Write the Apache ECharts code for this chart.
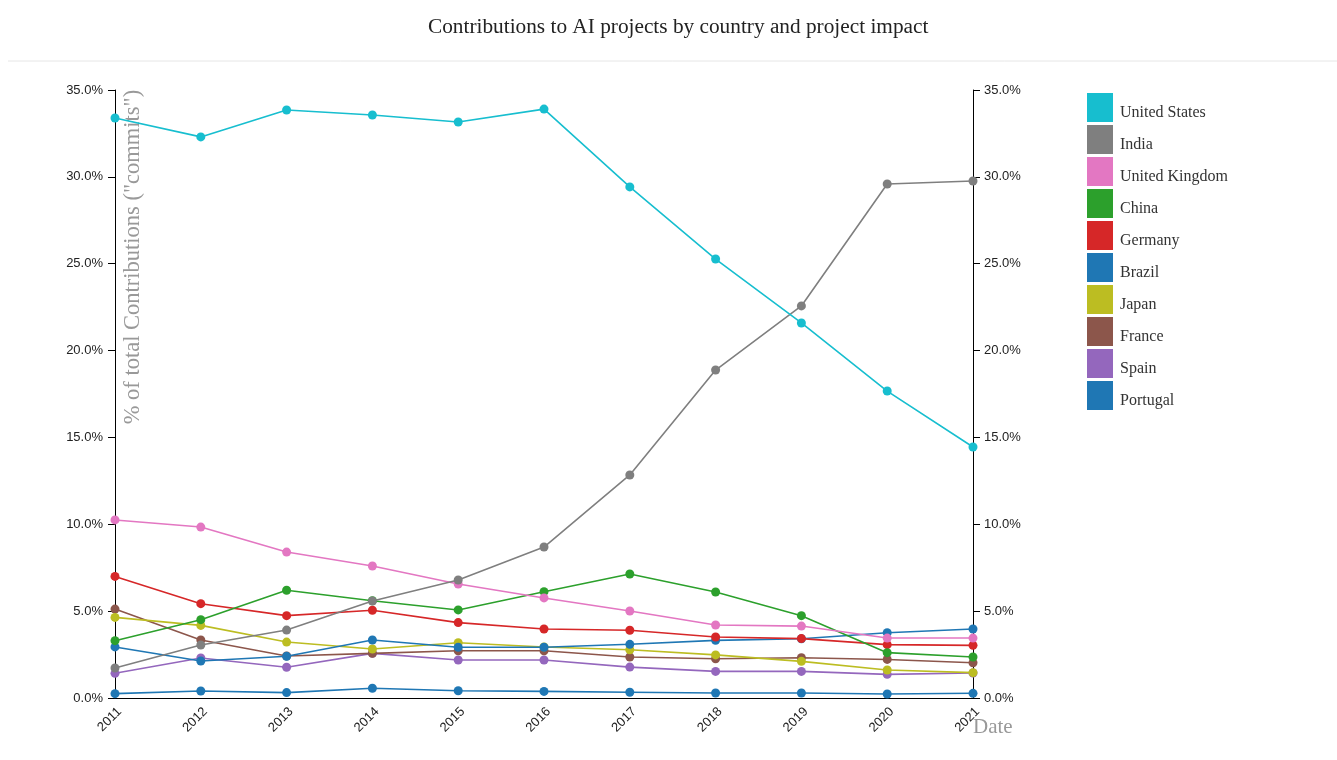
<!DOCTYPE html>
<html>
<head>
<meta charset="utf-8">
<script src="https://cdn.jsdelivr.net/npm/echarts@6/dist/echarts.min.js"></script>
<style>html,body{margin:0;padding:0;background:#fff;}#c{width:1337px;height:760px;}</style>
</head>
<body>
<div id="c"></div>
<script>
const years = ['2011','2012','2013','2014','2015','2016','2017','2018','2019','2020','2021'];
const countries = ['United States','India','United Kingdom','China','Germany','Brazil','Japan','France','Spain','Portugal'];
const colors = ['#17becf','#7f7f7f','#e377c2','#2ca02c','#d62728','#1f77b4','#bcbd22','#8c564b','#9467bd','#1f77b4'];
const unitedStates = [33.39,32.30,33.85,33.56,33.16,33.90,29.42,25.27,21.59,17.67,14.45];
const india        = [1.73,3.05,3.91,5.58,6.79,8.69,12.84,18.88,22.57,29.59,29.76];
const unitedKingdom= [10.25,9.84,8.40,7.60,6.56,5.76,5.01,4.20,4.14,3.45,3.45];
const china        = [3.30,4.51,6.20,5.60,5.07,6.12,7.14,6.10,4.74,2.61,2.36];
const germany      = [7.00,5.43,4.74,5.05,4.34,3.97,3.90,3.51,3.42,3.07,3.03];
const brazil       = [2.94,2.13,2.40,3.34,2.92,2.92,3.09,3.32,3.41,3.76,3.97];
const japan        = [4.64,4.18,3.22,2.82,3.18,2.94,2.78,2.48,2.11,1.61,1.46];
const france       = [5.12,3.34,2.42,2.57,2.72,2.72,2.36,2.26,2.32,2.22,2.03];
const spain        = [1.42,2.30,1.77,2.57,2.19,2.19,1.78,1.53,1.53,1.36,1.44];
const portugal     = [0.25,0.40,0.31,0.56,0.42,0.38,0.33,0.29,0.29,0.23,0.27];
const allData = [unitedStates,india,unitedKingdom,china,germany,brazil,japan,france,spain,portugal];

const chart = echarts.init(document.getElementById('c'));
const axisCommon = {
  type:'value', min:0, max:35, interval:5,
  axisLine:{show:true, lineStyle:{color:'#000', width:1}},
  axisTick:{show:true, length:7, lineStyle:{color:'#000'}},
  splitLine:{show:false},
  axisLabel:{formatter:v=>v.toFixed(1)+'%', color:'#222', fontSize:13, fontFamily:'Liberation Sans, Arial, sans-serif', margin:12}
};
chart.setOption({
  animation:false,
  color:colors,
  title:{text:'Contributions to AI projects by country and project impact', left:423, top:12,
    textStyle:{fontFamily:'Liberation Serif, Times New Roman, serif', fontWeight:'normal', fontSize:21.3, color:'#222'}},
  legend:{orient:'vertical', left:1082, top:88, itemWidth:26, itemHeight:29, itemGap:3,
    icon:'rect', data:countries,
    formatter:'{a|{name}}',
    textStyle:{fontFamily:'Liberation Serif, Times New Roman, serif', fontSize:16, color:'#333',
      rich:{a:{fontFamily:'Liberation Serif, Times New Roman, serif', fontSize:16, color:'#333', padding:[10,0,0,2]}}}},
  grid:{left:115, right:364, top:90, bottom:62, containLabel:false},
  xAxis:{type:'category', data:years, boundaryGap:false,
    axisLine:{lineStyle:{color:'#000'}}, axisTick:{show:false},
    axisLabel:{rotate:45, color:'#222', fontSize:13, fontFamily:'Liberation Sans, Arial, sans-serif', margin:7, verticalAlign:'top'}},
  yAxis:[Object.assign({position:'left'}, axisCommon), Object.assign({position:'right'}, axisCommon, {axisLabel:Object.assign({}, axisCommon.axisLabel, {margin:11})})],
  graphic:[
    {type:'line', shape:{x1:8,y1:61,x2:1337,y2:61}, style:{stroke:'#e6e6e6', lineWidth:1}},
    {type:'text', x:133, y:257, rotation:Math.PI/2, style:{text:'% of total Contributions ("commits")', fill:'#999',
      font:'22.5px "Liberation Serif", serif', textAlign:'center', textVerticalAlign:'middle'}},
    {type:'text', x:973, y:727, style:{text:'Date', fill:'#999', font:'21px "Liberation Serif", serif', textAlign:'left', textVerticalAlign:'middle'}}
  ],
  series: countries.map((name,i)=>({
    name, type:'line', data:allData[i], yAxisIndex:0,
    symbol:'circle', symbolSize:9, showSymbol:true,
    lineStyle:{width:1.6, color:colors[i]}, itemStyle:{color:colors[i]},
    z: 2 + (10-i)
  }))
});
</script>
</body>
</html>
